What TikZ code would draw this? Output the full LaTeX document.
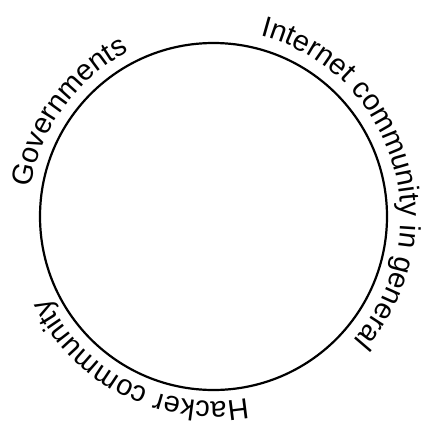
\documentclass[tikz,border=0pt]{standalone}
\usepackage{fontspec}
\setmainfont{Liberation Sans}
\usetikzlibrary{decorations.text}
\begin{document}
\begin{tikzpicture}[x=1pt,y=1pt,
  ring/.style={circle,draw=black,line width=2.2pt,minimum size=347pt,inner sep=0pt},
  arclabel/.style={decorate,decoration={text along path,text align=left,
     text format delimiters={|}{|}}}]
\useasboundingbox (0,0) rectangle (425,-428);
\node[ring] (ring) at (213.5,-216.5) {};
\path[arclabel,decoration={text={|\fontsize{29}{31}\selectfont|Governments}}]
  (ring.center) ++(171:185) arc[start angle=171,end angle=90,radius=185];
\path[arclabel,decoration={text={|\fontsize{29}{31}\selectfont|Internet community in general}}]
  (ring.center) ++(75.5:187) arc[start angle=75.5,end angle=-60,radius=187];
\path[arclabel,decoration={text={|\fontsize{29}{31}\selectfont|Hacker community}}]
  (ring.center) ++(-79.5:185) arc[start angle=-79.5,end angle=-175,radius=185];
\end{tikzpicture}
\end{document}
